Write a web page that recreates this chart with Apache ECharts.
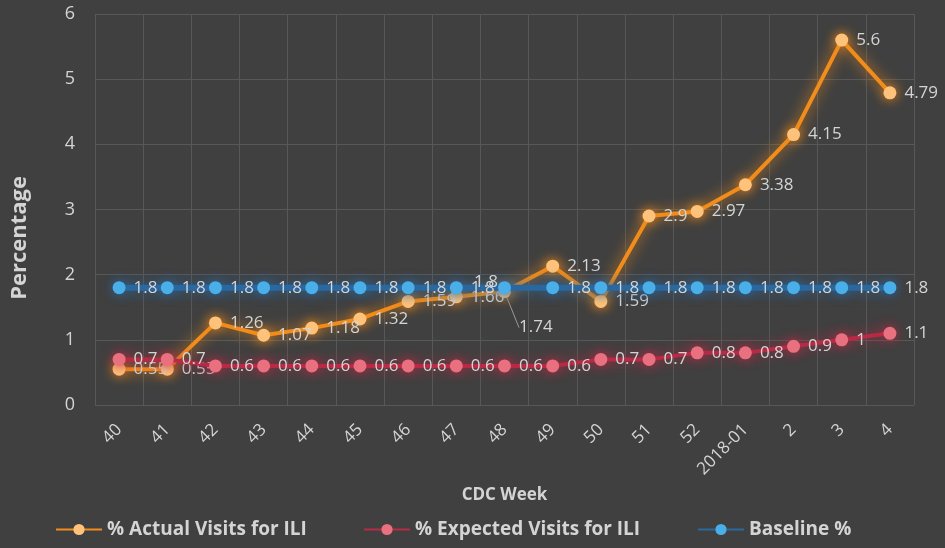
<!DOCTYPE html>
<html><head><meta charset="utf-8">
<script src="https://cdn.jsdelivr.net/npm/echarts@6/dist/echarts.min.js"></script>
<style>html,body{margin:0;padding:0;background:#404040;}#c{width:945px;height:548px;}</style>
</head><body><div id="c"></div>
<script>
const weeks = ['40','41','42','43','44','45','46','47','48','49','50','51','52','2018-01','2','3','4'];
const actual = [0.55,0.55,1.26,1.07,1.18,1.32,1.59,1.66,1.74,2.13,1.59,2.9,2.97,3.38,4.15,5.6,4.79];
const expected = [0.7,0.7,0.6,0.6,0.6,0.6,0.6,0.6,0.6,0.6,0.7,0.7,0.8,0.8,0.9,1,1.1];
const baseline = [1.8,1.8,1.8,1.8,1.8,1.8,1.8,1.8,1.8,1.8,1.8,1.8,1.8,1.8,1.8,1.8,1.8];
const yTicks = [0,1,2,3,4,5,6];
const seriesNames = ['% Actual Visits for ILI','% Expected Visits for ILI','Baseline %'];

const FONT = 'Open Sans';
const TXT = '#d4d4d4';
const labelBase = {show:true, position:'right', distance:8, color:TXT, fontSize:17, fontFamily:FONT};

function mk(name, data, lineColor, markColor, z, lw, overrides, lineIdx, layout){
  const s = {
    name, type:'line', data: data.map((v,i)=>{
      const o = {value:v};
      if (overrides && overrides[i]) o.label = overrides[i];
      if (i === lineIdx) o.labelLine = {show:true, lineStyle:{color:'#9a9a9a', width:1}};
      return o;
    }),
    z, symbol:'circle', symbolSize:13,
    lineStyle:{color:lineColor, width:lw, shadowColor:lineColor, shadowBlur:14},
    itemStyle:{color:markColor, shadowColor:lineColor, shadowBlur:12},
    label: labelBase
  };
  if (layout) s.labelLayout = layout;
  return s;
}

const chart = echarts.init(document.getElementById('c'));
chart.setOption({
  backgroundColor:'#404040',
  animation:false,
  grid:{left:95, right:31, top:14, bottom:143},
  xAxis:{
    type:'category', data:weeks, boundaryGap:true,
    name:'CDC Week', nameLocation:'middle', nameGap:82,
    nameTextStyle:{color:TXT, fontSize:17, fontWeight:'bold', fontFamily:FONT},
    axisLine:{show:false}, axisTick:{show:false},
    axisLabel:{rotate:45, color:TXT, fontSize:17, fontFamily:FONT, margin:22, interval:0},
    splitLine:{show:true, lineStyle:{color:'#585858', width:1}}
  },
  yAxis:{
    type:'value', min:yTicks[0], max:yTicks[yTicks.length-1], interval:1,
    axisLine:{show:false}, axisTick:{show:false},
    axisLabel:{color:TXT, fontSize:18, fontFamily:FONT, margin:20},
    splitLine:{lineStyle:{color:'#585858', width:1}}
  },
  graphic:[{
    type:'text', left:9, top:176, rotation:Math.PI/2,
    style:{text:'Percentage', fill:TXT, font:'bold 22px "Open Sans"'}
  }],
  legend:[
    {data:[seriesNames[0]], left:50, top:515},
    {data:[seriesNames[1]], left:358, top:515},
    {data:[seriesNames[2]], left:692, top:515}
  ].map(l=>Object.assign(l,{itemWidth:46, itemHeight:14, itemGap:4,
    textStyle:{color:TXT, fontSize:19, fontWeight:'bold', fontFamily:FONT}})),
  series:[
    mk(seriesNames[0], actual, '#f28c1a', '#ffc27a', 3, 4,
       {7:{offset:[-4,12]}, 0:{offset:[0,4]}}, 8,
       p => p.dataIndex===8 ? {dx:0, dy:36} : {}),
    mk(seriesNames[1], expected, '#b82a45', '#e8707f', 4, 4, null, -1),
    mk(seriesNames[2], baseline, '#2a68a0', '#4aaee8', 5, 6, {8:{position:'left', offset:[8,-6]}}, -1)
  ]
});
</script></body></html>
